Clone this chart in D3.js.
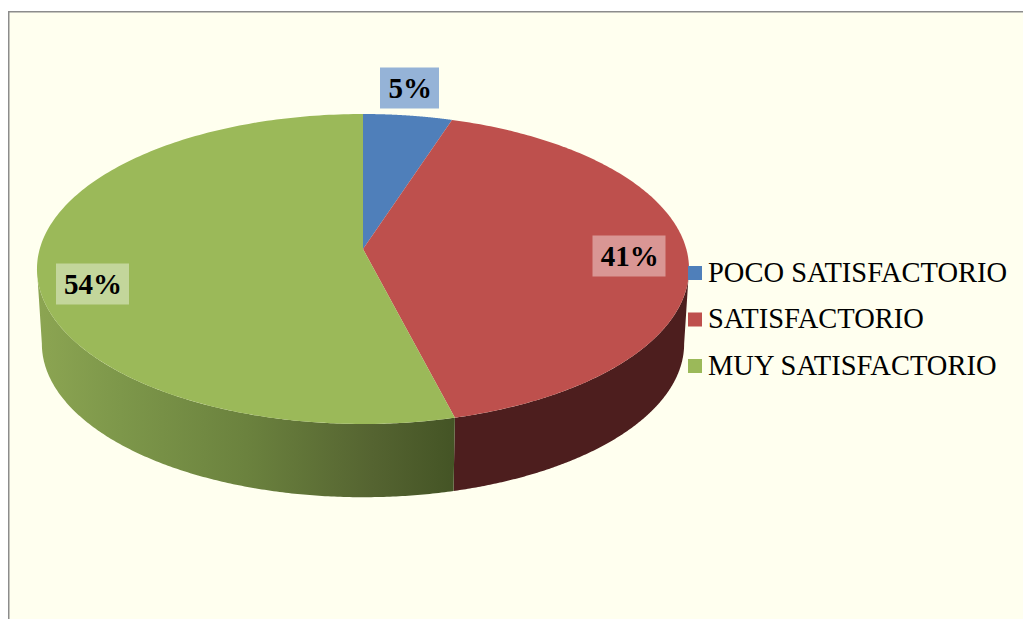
<!DOCTYPE html>
<html>
<head>
<meta charset="utf-8">
<script src="https://cdn.jsdelivr.net/npm/d3@7/dist/d3.min.js"></script>
<style>
html, body { margin: 0; padding: 0; background: #fff; overflow: hidden; }
svg { display: block; }
text { font-family: "Liberation Serif", serif; fill: #000; }
</style>
</head>
<body>
<script>
const categories = ["POCO SATISFACTORIO", "SATISFACTORIO", "MUY SATISFACTORIO"];
const seriesValues = [5, 41, 54];
const topColors = ["#4f7fba", "#be504d", "#9bb959"];
const labelBoxColors = ["#95b3d7", "#d99694", "#c3d69b"];
const greenSideStops = [
  [0, "#8ca552"], [0.2, "#7d974a"], [0.5, "#6b823e"], [0.8, "#556431"], [1, "#445425"]
];

const width = 1023, height = 619;
const svg = d3.select("body").append("svg").attr("width", width).attr("height", height);

// Disc geometry: a tilted circle under perspective projection
const apex = { x: 363, y: 249 };
const k = 0.129, A = 152.4, B = 323.3, depth = 75;
const project = (theta, dy = 0, shrinkX = 1, shrinkY = 1) => {
  const w = 1 + k * Math.cos(theta);
  return [apex.x + shrinkX * B * Math.sin(theta) / w,
          apex.y + dy - shrinkY * A * Math.cos(theta) / w];
};

const pie = d3.pie().sort(null).value(d => d);
const arcs = pie(seriesValues);
const line = d3.line();
const arcPts = (a0, a1, dy, sx, sy) =>
  d3.range(0, 201).map(i => project(a0 + (a1 - a0) * i / 200, dy, sx, sy));

// Chart area
svg.append("rect").attr("x", 8.75).attr("y", 11.75).attr("width", width + 20).attr("height", height + 20)
  .attr("fill", "#ffffef").attr("stroke", "#8c8c8c").attr("stroke-width", 1.5);

const defs = svg.append("defs");
const grad = defs.append("linearGradient").attr("id", "greenSide")
  .attr("gradientUnits", "userSpaceOnUse")
  .attr("x1", apex.x - 326).attr("x2", project(arcs[2].startAngle)[0]).attr("y1", 0).attr("y2", 0);
greenSideStops.forEach(s => grad.append("stop").attr("offset", s[0]).attr("stop-color", s[1]));

// Visible rim of the disc: the parts of each slice between the silhouette points
const silR = Math.acos(-k), silL = 2 * Math.PI - Math.acos(-k);
const sides = [
  { a0: silR, a1: arcs[1].endAngle, fill: "#4d1e1e" },
  { a0: arcs[2].startAngle, a1: silL, fill: "url(#greenSide)" }
];
sides.forEach(s => {
  const top = arcPts(s.a0, s.a1, 0, 1, 1);
  const bottom = arcPts(s.a0, s.a1, depth, 0.985, 0.99).reverse();
  svg.append("path").attr("d", line(top.concat(bottom)) + "Z").attr("fill", s.fill);
});

// Top face
arcs.forEach((a, i) => {
  const pts = [[apex.x, apex.y]].concat(arcPts(a.startAngle, a.endAngle, 0, 1, 1));
  svg.append("path").attr("d", line(pts) + "Z").attr("fill", topColors[i]);
});

// Value labels
const labelCenters = [[409.5, 88], [629, 256], [92.5, 284]];
const boxSizes = [[59, 41], [73, 41], [73, 41]];
const textOffsets = [0.7, 0.7, 0.5];
seriesValues.forEach((v, i) => {
  const [cx, cy] = labelCenters[i], [bw, bh] = boxSizes[i];
  svg.append("rect").attr("x", cx - bw / 2).attr("y", cy - bh / 2).attr("width", bw).attr("height", bh)
    .attr("fill", labelBoxColors[i]);
  svg.append("text").attr("x", cx + textOffsets[i]).attr("y", cy + 10).attr("text-anchor", "middle")
    .attr("font-size", 29).attr("font-weight", "bold").text(v + "%");
});

// Legend
const legendY = d3.scalePoint().domain(categories).range([273, 366]);
categories.forEach((c, i) => {
  const y = legendY(c);
  svg.append("rect").attr("x", 688).attr("y", y - 7).attr("width", 14).attr("height", 14).attr("fill", topColors[i]);
  svg.append("text").attr("x", 708).attr("y", y + 8.8).attr("font-size", 28.5).text(c);
});
</script>
</body>
</html>
